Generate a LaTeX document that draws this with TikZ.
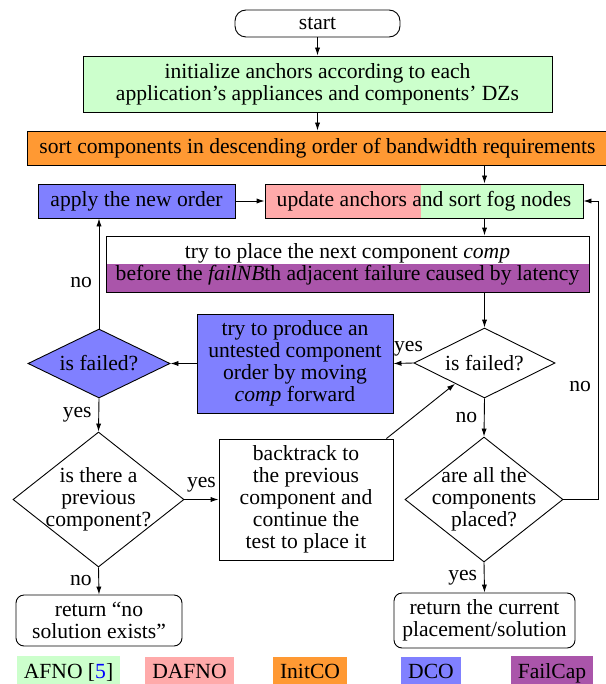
\documentclass[tikz,border=0pt]{standalone}
\usepackage{fontspec}
\setmainfont{Liberation Serif}
\usetikzlibrary{shapes.geometric,arrows.meta,calc}
\definecolor{afno}{HTML}{CCFFCC}
\definecolor{dafno}{HTML}{FFAAAA}
\definecolor{initco}{HTML}{FF9933}
\definecolor{dco}{HTML}{8080FF}
\definecolor{failcap}{HTML}{AA55AA}
\begin{document}
\begin{tikzpicture}[x=0.5pt,y=-0.5pt,line width=0.45pt,
  every node/.style={font=\fontsize{10.8}{11}\selectfont},
  box/.style={draw, rectangle, align=center, inner sep=0pt},
  term/.style={box, rounded corners=4pt},
  dia/.style={draw, diamond, inner sep=0pt},
  arr/.style={-{Latex[length=4pt,width=2.6pt]}},
  leg/.style={anchor=base, inner sep=3.4pt}
]
\useasboundingbox (0,0) rectangle (605,684);

\node[term, rounded corners=5.5pt, minimum width=82.5pt, minimum height=13.5pt] (start) at (317.5,23.5) {start};
\node[box, fill=afno, minimum width=234.5pt, minimum height=28pt] (init) at (317.5,84) {initialize anchors according to each\\application's appliances and components' DZs};
\node[box, fill=initco, minimum width=290.5pt, minimum height=17pt] (sort) at (317.5,148) {sort components in descending order of bandwidth requirements};
\node[box, fill=dco, minimum width=98.5pt, minimum height=17pt] (apply) at (136.5,201) {apply the new order};
\node[box, fill=afno, minimum width=159pt, minimum height=17pt,
  path picture={\fill[dafno] (path picture bounding box.south west) rectangle ($(path picture bounding box.north west)!0.49!(path picture bounding box.north east)$);}] (update) at (424,201) {update anchors and sort fog nodes};
\node[box, minimum width=241.5pt, minimum height=28pt,
  path picture={\fill[failcap] (path picture bounding box.west) rectangle (path picture bounding box.south east);}] (try) at (347.5,264) {try to place the next component \textit{comp}\\before the \textit{failNB}th adjacent failure caused by latency};

\node[dia, fill=dco, minimum width=71pt, minimum height=34.5pt, label={center:is failed?}] (fail1) at (99,363.5) {};
\node[dia, minimum width=70.5pt, minimum height=35pt, label={center:is failed?}] (fail2) at (484.5,363) {};
\node[box, fill=dco, minimum width=98pt, minimum height=49.5pt] (produce) at (295,363.5) {try to produce an\\untested component\\order by moving\\\textit{comp} forward};

\node[dia, minimum width=85.5pt, minimum height=67.5pt, label={[align=center]center:is there a\\previous\\component?}] (prev) at (98.5,499.5) {};
\node[box, minimum width=87pt, minimum height=60.5pt] (back) at (306,499.5) {backtrack to\\the previous\\component and\\continue the\\test to place it};
\node[dia, minimum width=79pt, minimum height=62.5pt, label={[align=center]center:are all the\\components\\placed?}] (all) at (484,499.5) {};

\node[term, minimum width=83pt, minimum height=25.5pt] (nosol) at (99,620.5) {return ``no\\solution exists''};
\node[term, minimum width=90.5pt, minimum height=27.5pt] (ret) at (484.5,620.5) {return the current\\placement/solution};

\node[leg, fill=afno] (lafno) at (68.5,678) {AFNO [\textcolor{blue}{5}]};
\node[leg, fill=dafno] (ldafno) at (189.5,678) {DAFNO};
\node[leg, fill=initco] (linit) at (310,678) {InitCO};
\node[leg, fill=dco] (ldco) at (431,678) {DCO};
\node[leg, fill=failcap] (lfail) at (552,678) {FailCap};

\coordinate (loop) at (598,201);

\draw[arr] (start) -- (init);
\draw[arr] (init) -- (sort);
\draw[arr] (sort.south -| fail2) -- (update.north -| fail2);
\draw[arr] (apply) -- (update);
\draw[arr] (update.south -| fail2) -- (try.north -| fail2);
\draw[arr] (try.south -| fail2) -- (fail2.north);
\draw[arr] (fail2.west) -- (produce.east) node[pos=0.25, above] {yes};
\draw[arr] (produce.west) -- (fail1.east);
\draw[arr] (fail1.north) -- (apply.south -| fail1) node[pos=0.42, left] {no};
\draw[arr] (fail1.south) -- (prev.north) node[midway, left] {yes};
\draw[arr] (prev.east) -- (back.west) node[midway, above] {yes};
\draw[arr] ([xshift=-3.5pt]back.north east) -- ([xshift=3pt,yshift=-1.5pt]fail2.south west);
\draw[arr] (fail2.south) -- (all.north) node[midway, left] {no};
\draw[arr] (all.east) -| node[pos=0.69, left] {no} (loop) -- (update.east);
\draw[arr] (all.south) -- (ret.north) node[midway, left] {yes};
\draw[arr] (prev.south) -- (nosol.north) node[midway, left] {no};
\end{tikzpicture}
\end{document}
